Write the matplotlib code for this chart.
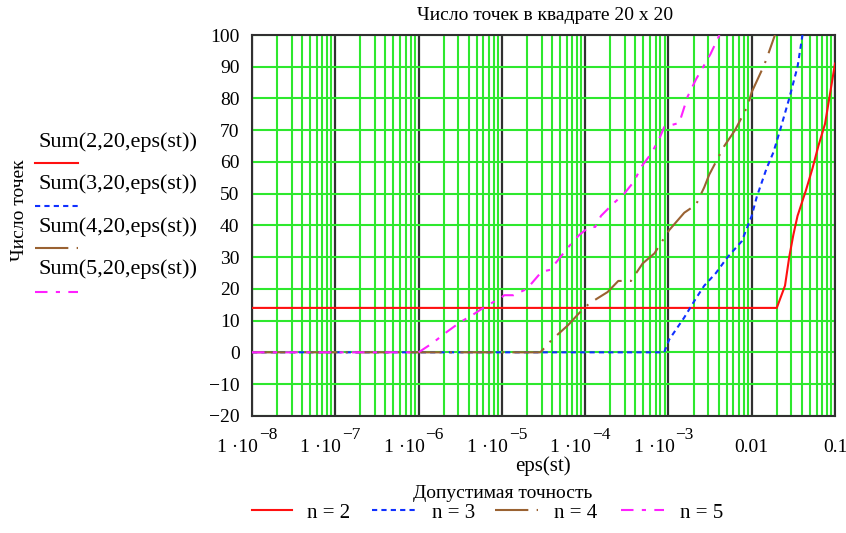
import matplotlib
matplotlib.use("Agg")
import matplotlib.pyplot as plt
from matplotlib.lines import Line2D
import matplotlib.transforms as mtransforms

plt.rcParams['font.family'] = ['Liberation Serif', 'DejaVu Serif']
plt.rcParams['axes.unicode_minus'] = True

# dannye (snyato s grafika)
eps_n2 = [1e-8, 0.02, 0.0251, 0.0282, 0.0316, 0.0355, 0.0447, 0.0537, 0.0631, 0.0759, 0.0891, 0.1]
cnt_n2 = [14, 14, 21, 30, 37, 43, 51, 58, 65, 72, 83, 91]

eps_n3 = [1e-8, 8.9e-4, 1.02e-3, 1.55e-3, 2.14e-3, 2.69e-3, 3.72e-3, 5.13e-3, 7.59e-3,
          0.01, 0.0115, 0.0151, 0.0182, 0.0219, 0.0282, 0.0355, 0.0407]
cnt_n3 = [0, 0, 4, 11, 17, 21, 25, 30, 35, 43, 49, 58, 63, 70, 80, 90, 100]

eps_n4 = [1e-8, 2.9e-5, 4.0e-5, 6.2e-5, 8.5e-5, 1.12e-4, 1.86e-4, 2.5e-4, 3.55e-4, 4.9e-4,
          6.8e-4, 1.02e-3, 1.17e-3, 1.55e-3, 2.14e-3, 2.69e-3, 3.09e-3, 4.68e-3, 6.3e-3,
          8.9e-3, 0.01, 0.0141, 0.0158, 0.019]
cnt_n4 = [0, 0, 4, 8.5, 12.4, 15.4, 19, 22.5, 22.5, 28, 31.2, 38.5, 40.3, 44, 46.5, 52,
          56, 65, 70, 77.5, 82, 90.5, 94, 100]

eps_n5 = [1e-8, 1e-6, 1.45e-6, 2.2e-6, 3.2e-6, 4.4e-6, 6.3e-6, 9.5e-6, 1.07e-5, 1.38e-5,
          2.0e-5, 3.0e-5, 3.8e-5, 4.7e-5, 6.2e-5, 8.5e-5, 1.12e-4, 1.32e-4, 1.55e-4,
          2.14e-4, 2.95e-4, 3.9e-4, 4.7e-4, 6.2e-4, 7.8e-4, 8.9e-4, 1.35e-3, 1.7e-3,
          2.14e-3, 2.7e-3, 3.2e-3, 4.1e-3]
cnt_n5 = [0, 0, 2.8, 6.5, 9.6, 11.7, 14.4, 17, 18, 18, 20, 25.4, 26, 29, 33, 37, 39.5,
          39.5, 43, 46.7, 50, 54, 58.4, 62.6, 67.4, 71, 72.3, 80.6, 86, 90.6, 94, 100]

xtick_vals = [1e-8, 1e-7, 1e-6, 1e-5, 1e-4, 1e-3, 0.01, 0.1]
xtick_base = ['1 ·10', '1 ·10', '1 ·10', '1 ·10', '1 ·10', '1 ·10', '0.01', '0.1']
xtick_exp = ['\u22128', '\u22127', '\u22126', '\u22125', '\u22124', '\u22123', '', '']
ytick_vals = [-20, -10, 0, 10, 20, 30, 40, 50, 60, 70, 80, 90, 100]

legend_left = ['Sum(2,20,eps(st))', 'Sum(3,20,eps(st))', 'Sum(4,20,eps(st))', 'Sum(5,20,eps(st))']
legend_bottom = ['n = 2', 'n = 3', 'n = 4', 'n = 5']

colors = ['#ff1010', '#1030ff', '#9a6232', '#ff20ff']
dash_list = [None, (2.5, 2), (16, 4, 1, 4), (6, 4, 2, 4)]
green = '#2ee82e'
lw = 1.5

W, H = 846, 533
def fx(p):
    return p / W
def fy(p):
    return 1 - p / H

fig = plt.figure(figsize=(8.46, 5.33), dpi=100)
ax = fig.add_axes([fx(252), fy(415.8), (835 - 252) / W, (415.8 - 35) / H])

ax.set_xscale('log')
ax.set_xlim(1e-8, 0.1)
ax.set_ylim(-20, 100)

minor = [m * 10.0 ** k for k in range(-8, -1) for m in range(2, 10)]
ax.set_xticks(xtick_vals)
ax.set_xticks(minor, minor=True)
ax.set_yticks(ytick_vals)
ax.set_xticklabels([])
ax.set_xticklabels([], minor=True)
ax.tick_params(axis='both', which='both', length=0)
ax.tick_params(axis='y', labelsize=14, pad=9)

ax.set_axisbelow(True)
ax.grid(True, which='minor', axis='x', color=green, lw=1.5)
ax.grid(True, which='major', axis='y', color=green, lw=1.5)
ax.grid(True, which='major', axis='x', color='#303030', lw=1.6)
for s in ax.spines.values():
    s.set_color('#303030')
    s.set_linewidth(1.5)

series = [(eps_n2, cnt_n2), (eps_n3, cnt_n3), (eps_n4, cnt_n4), (eps_n5, cnt_n5)]
for (xs, ys), c, d in zip(series, colors, dash_list):
    line, = ax.plot(xs, ys, color=c, lw=lw, zorder=3)
    if d is not None:
        line.set_dashes(d)

# podpisi osi x: "1 ·10" + pokazatel stepeni
trans = mtransforms.blended_transform_factory(ax.transData, ax.transAxes)
for v, b, e in zip(xtick_vals, xtick_base, xtick_exp):
    if e:
        tr = mtransforms.offset_copy(trans, fig=fig, x=6, y=0, units='dots')
        base = ax.text(v, -0.095, b, transform=tr, ha='right', va='baseline', fontsize=14)
        ax.annotate(e, xy=(1, 0), xycoords=base, xytext=(1, 17), textcoords='offset pixels',
                    ha='left', va='baseline', fontsize=12.5)
    else:
        ax.text(v, -0.095, b, transform=trans, ha='center', va='baseline', fontsize=14)

fig.text(fx(545), fy(15), 'Число точек в квадрате 20 х 20', ha='center', va='center', fontsize=14)
fig.text(fx(20), fy(210), 'Число точек', rotation=90, ha='center', va='center', fontsize=14)
fig.text(fx(543), fy(466), 'eps(st)', ha='center', va='center', fontsize=15)
fig.text(fx(503), fy(494), 'Допустимая точность', ha='center', va='center', fontsize=14)

# legenda sleva
text_y = [141.7, 184, 226.7, 269]
line_y = [163.3, 206, 248.3, 291.7]
for t, ty, ly, c, d in zip(legend_left, text_y, line_y, colors, dash_list):
    fig.text(fx(38), fy(ty), t, ha='left', va='center', fontsize=16)
    ln = Line2D([fx(35), fx(78)], [fy(ly), fy(ly)], color=c, lw=lw, transform=fig.transFigure)
    if d is not None:
        ln.set_dashes(d)
    fig.add_artist(ln)

# legenda vnizu
seg_x = [(252, 292), (372, 416), (495, 538), (621, 664)]
lab_x = [307, 432, 554, 680]
for t, (x0, x1), lx, c, d in zip(legend_bottom, seg_x, lab_x, colors, dash_list):
    ln = Line2D([fx(x0), fx(x1)], [fy(510), fy(510)], color=c, lw=lw, transform=fig.transFigure)
    if d is not None:
        ln.set_dashes(d)
    fig.add_artist(ln)
    fig.text(fx(lx), fy(514), t, ha='left', va='center', fontsize=15)

fig.savefig('out.png', dpi=100)
